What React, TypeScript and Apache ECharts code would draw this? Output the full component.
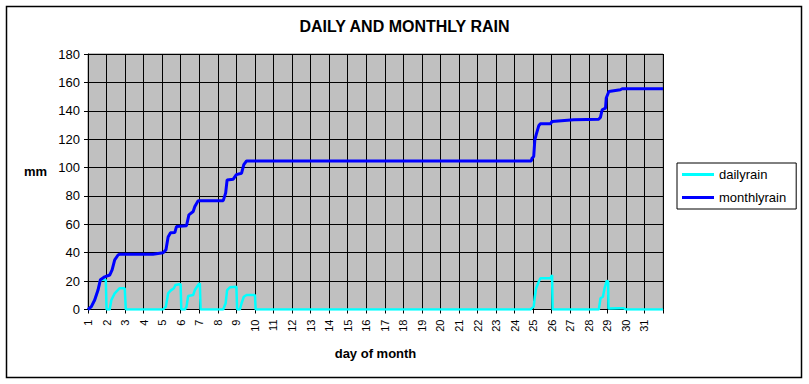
import React, { useEffect, useRef } from "react";
import * as echarts from "echarts";

const title = "DAILY AND MONTHLY RAIN";
const xAxisName = "day of month";
const yAxisName = "mm";
const seriesNames = ["dailyrain", "monthlyrain"];

const monthlyDays = [
  1.0, 1.18, 1.36, 1.54, 1.67, 1.9, 2.17, 2.3, 2.44, 2.62, 2.71, 4.5, 5.05, 5.2, 5.32, 5.45, 5.68, 5.77,
  6.31, 6.44, 6.67, 6.76, 6.94, 8.29, 8.42, 8.5, 8.83, 9.0, 9.28, 9.4, 9.55, 24.9, 24.94, 25.03, 25.09,
  25.16, 25.3, 25.39, 25.93, 26.02, 27.19, 28.54, 28.63, 28.72, 28.9, 28.94, 29.08, 29.7, 29.8, 32,
];
const monthlyRain = [
  0, 2, 6.7, 13.7, 21, 23, 24.3, 28, 35, 38.4, 39, 39, 40, 42, 51, 54, 54.2, 58.4,
  59, 66.7, 69, 72.5, 76.7, 76.7, 82, 91.3, 91.8, 95, 96, 102, 104.7, 104.7, 106.6, 107.8, 119.5,
  123, 129.4, 130.8, 130.8, 132.5, 133.7, 134.1, 135.5, 140.7, 141.9, 149, 153.6, 154.8, 155.5, 155.5,
];

const dailyDays = [
  1.0, 1.18, 1.36, 1.54, 1.67, 1.9, 1.96, 2.0, 2.17, 2.26, 2.44, 2.53, 2.71, 2.98, 3.04,
  5.05, 5.2, 5.32, 5.45, 5.63, 5.72, 5.99, 6.03, 6.23, 6.31, 6.4, 6.67, 6.76, 6.94, 7.03, 7.07,
  8.29, 8.42, 8.5, 8.65, 9.0, 9.04, 9.19, 9.28, 9.4, 9.55, 10.0, 10.04,
  24.85, 25.03, 25.09, 25.16, 25.3, 25.39, 25.93, 26.02, 26.05,
  28.54, 28.63, 28.76, 28.85, 28.97, 29.04, 29.06, 29.7, 29.88, 30.03, 32,
];
const dailyRain = [
  0, 2, 6.7, 13.7, 21, 21, 20.8, 0, 0, 6.7, 11.4, 12.6, 15, 15, 0,
  0, 2, 11.4, 13.3, 15, 17.3, 18, 0, 0, 2, 9.5, 10.2, 13.7, 17.3, 18.5, 0,
  0, 4.4, 13.7, 15.6, 16, 0, 0, 4.4, 9, 10.2, 10.2, 0,
  0, 2, 9, 15, 19.6, 22, 22, 24.3, 0,
  0, 7.9, 9, 15, 20.3, 19.6, 0.7, 0.8, 0.8, 0, 0,
];

const dayLabels = Array.from({ length: 31 }, (_, i) => String(i + 1));

export default function App() {
  const ref = useRef<HTMLDivElement>(null);
  useEffect(() => {
    if (!ref.current) return;
    const chart = echarts.init(ref.current, undefined, { renderer: "svg" });
    const font = "Liberation Sans, Arial, sans-serif";
    chart.setOption({
      animation: false,
      backgroundColor: "#ffffff",
      title: {
        text: title,
        left: "center",
        top: 18,
        textStyle: { fontFamily: font, fontSize: 16, fontWeight: "bold", color: "#000" },
        padding: 0,
      },
      legend: {
        orient: "vertical",
        left: 677,
        top: 163,
        padding: [5, 10, 5, 5],
        itemGap: 10,
        itemWidth: 32,
        itemHeight: 3,
        borderColor: "#000",
        borderWidth: 1,
        textStyle: { fontFamily: font, fontSize: 13, color: "#000" },
        data: [
          { name: seriesNames[0], icon: "rect" },
          { name: seriesNames[1], icon: "rect" },
        ],
      },
      grid: {
        left: 88,
        right: 146,
        top: 54,
        bottom: 74.5,
        show: true,
        backgroundColor: "#C0C0C0",
        borderColor: "#808080",
        borderWidth: 1,
        containLabel: false,
        outerBoundsMode: "none",
      },
      xAxis: {
        type: "value",
        min: 1,
        max: 32,
        interval: 1,
        name: xAxisName,
        nameLocation: "middle",
        nameGap: 37,
        nameTextStyle: { fontFamily: font, fontSize: 13, fontWeight: "bold", color: "#000" },
        axisLine: { show: true, lineStyle: { color: "#000", width: 1 } },
        axisTick: { show: true, inside: false, length: 4, lineStyle: { color: "#000" } },
        axisLabel: {
          rotate: 90,
          margin: 10,
          fontFamily: font,
          fontSize: 11,
          color: "#000",
          showMaxLabel: true,
          formatter: (v: number) => (v >= 1 && v <= 31 ? dayLabels[Math.round(v) - 1] : ""),
        },
        splitLine: { show: true, lineStyle: { color: "#000", width: 1 } },
      },
      yAxis: {
        type: "value",
        min: 0,
        max: 180,
        interval: 20,
        axisLine: { show: true, lineStyle: { color: "#000", width: 1 } },
        axisTick: { show: true, inside: false, length: 4, lineStyle: { color: "#000" } },
        axisLabel: { margin: 8, fontFamily: font, fontSize: 13, color: "#000" },
        splitLine: { show: true, lineStyle: { color: "#000", width: 1 } },
      },
      graphic: [
        {
          type: "rect",
          shape: { x: 6.5, y: 6.5, width: 795, height: 371 },
          style: { fill: "none", stroke: "#000", lineWidth: 1.5 },
          silent: true,
        },
        {
          type: "text",
          left: 24,
          top: 165,
          style: { text: yAxisName, font: `bold 13px ${font}`, fill: "#000" },
        },
      ],
      series: [
        {
          name: seriesNames[0],
          type: "line",
          data: dailyDays.map((d, i) => [d, dailyRain[i]]),
          showSymbol: false,
          symbol: "none",
          lineStyle: { color: "#00FFFF", width: 2.5 },
          itemStyle: { color: "#00FFFF" },
          clip: true,
        },
        {
          name: seriesNames[1],
          type: "line",
          data: monthlyDays.map((d, i) => [d, monthlyRain[i]]),
          showSymbol: false,
          symbol: "none",
          lineStyle: { color: "#0000FF", width: 3 },
          itemStyle: { color: "#0000FF" },
          clip: true,
        },
      ],
    });
    return () => chart.dispose();
  }, []);
  return (
    <div
      ref={ref}
      style={{ position: "absolute", left: 0, top: 0, width: 809, height: 384 }}
    />
  );
}
